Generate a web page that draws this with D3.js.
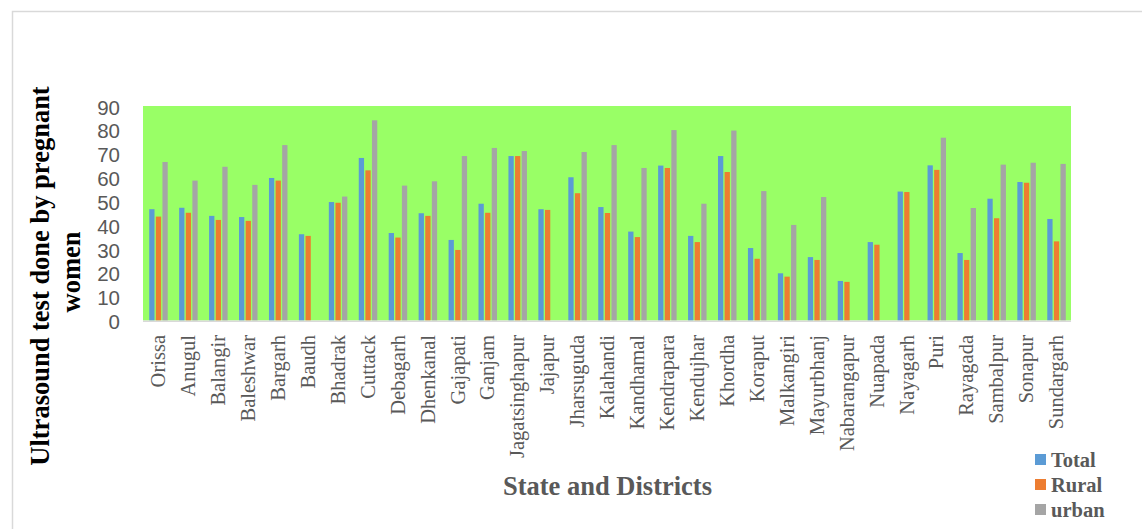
<!DOCTYPE html>
<html>
<head>
<meta charset="utf-8">
<script src="https://cdn.jsdelivr.net/npm/d3@7"></script>
<style>
  html, body { margin: 0; padding: 0; background: #ffffff; }
  svg { display: block; }
</style>
</head>
<body>
<svg id="chart" width="1142" height="529"></svg>
<script>
const categories = ["Orissa","Anugul","Balangir","Baleshwar","Bargarh","Baudh","Bhadrak","Cuttack","Debagarh","Dhenkanal","Gajapati","Ganjam","Jagatsinghapur","Jajapur","Jharsuguda","Kalahandi","Kandhamal","Kendrapara","Kendujhar","Khordha","Koraput","Malkangiri","Mayurbhanj","Nabarangapur","Nuapada","Nayagarh","Puri","Rayagada","Sambalpur","Sonapur","Sundargarh"];
const seriesNames = ["Total","Rural","urban"];
const totalValues = [46.7,47.3,43.9,43.4,59.8,36.2,49.7,68.2,36.7,45.0,33.8,49.0,69.0,46.7,60.1,47.6,37.3,65.0,35.5,69.0,30.4,19.8,26.6,16.6,32.9,54.1,65.1,28.3,51.1,58.1,42.6];
const ruralValues = [43.6,45.2,42.2,41.8,58.7,35.5,49.4,63.0,34.8,43.9,29.6,45.2,69.0,46.4,53.4,45.1,35.0,64.0,32.9,62.3,25.9,18.4,25.4,16.2,31.8,53.9,63.2,25.4,42.9,57.8,33.2];
const urbanValues = [66.5,58.7,64.5,56.9,73.6,null,52.0,84.0,56.6,58.4,69.0,72.4,71.1,null,70.7,73.6,64.0,79.9,49.0,79.7,54.3,40.1,51.8,null,null,null,76.7,47.2,65.4,66.2,65.7];
const yTicks = [0,10,20,30,40,50,60,70,80,90];
const seriesColors = ["#5B9BD5","#ED7D31","#A5A5A5"];

const svg = d3.select("#chart");

// outer chart border
svg.append("rect")
  .attr("x", 12.5).attr("y", 11.5)
  .attr("width", 1300).attr("height", 700)
  .attr("fill", "none").attr("stroke", "#d9d9d9").attr("stroke-width", 1.5);

const plot = { left: 143, right: 1071, top: 106, bottom: 320.5 };

const x = d3.scaleBand().domain(categories).range([plot.left, plot.right]).padding(0);
const y = d3.scaleLinear().domain([0, 90]).range([plot.bottom, plot.top]);
const xs = d3.scaleBand().domain(seriesNames).range([-9.25, 9.25]).paddingInner(0.2);

// plot area
svg.append("rect")
  .attr("x", plot.left).attr("y", plot.top)
  .attr("width", plot.right - plot.left).attr("height", plot.bottom - plot.top)
  .attr("fill", "#99FF66");

const data = categories.map((c, i) => ({
  cat: c,
  vals: [totalValues[i], ruralValues[i], urbanValues[i]]
}));

const groups = svg.append("g").selectAll("g").data(data).join("g")
  .attr("transform", d => `translate(${x(d.cat) + x.bandwidth() / 2 + 0.5},0)`);

groups.selectAll("rect")
  .data(d => d.vals.map((v, k) => ({ v, k })).filter(e => e.v !== null))
  .join("rect")
  .attr("x", e => xs(seriesNames[e.k]))
  .attr("width", xs.bandwidth())
  .attr("y", e => y(e.v))
  .attr("height", e => y(0) - y(e.v))
  .attr("fill", e => seriesColors[e.k]);

// x axis baseline
svg.append("line")
  .attr("x1", plot.left).attr("x2", plot.right)
  .attr("y1", plot.bottom + 0.7).attr("y2", plot.bottom + 0.7)
  .attr("stroke", "#d9d9d9").attr("stroke-width", 1.5);

// y axis
const yAxis = d3.axisLeft(y).tickValues(yTicks).tickSize(0).tickPadding(0);
const yg = svg.append("g").attr("transform", "translate(120,1.5)").call(yAxis);
yg.select(".domain").remove();
yg.selectAll("text")
  .attr("font-family", "'Liberation Sans', Arial, sans-serif")
  .attr("font-size", "20.5px")
  .attr("fill", "#595959");

// x axis labels
const xAxis = d3.axisBottom(x).tickSize(0).tickPadding(0);
const xg = svg.append("g").attr("transform", `translate(0,${plot.bottom})`).call(xAxis);
xg.select(".domain").remove();
xg.selectAll("text")
  .attr("font-family", "'Liberation Serif', 'Times New Roman', serif")
  .attr("font-size", "20.5px")
  .attr("fill", "#595959")
  .attr("text-anchor", "end")
  .attr("dy", "0.35em")
  .attr("transform", "translate(0,14.5) rotate(-90)")
  .attr("y", 0).attr("x", 0);

// y title
svg.append("text")
  .attr("transform", "translate(49,276) rotate(-90)")
  .attr("text-anchor", "middle")
  .attr("font-family", "'Liberation Serif', 'Times New Roman', serif")
  .attr("font-weight", "bold").attr("font-size", "26.5px").attr("fill", "#000")
  .text("Ultrasound test done by pregnant");
svg.append("text")
  .attr("transform", "translate(80,272) rotate(-90)")
  .attr("text-anchor", "middle")
  .attr("font-family", "'Liberation Serif', 'Times New Roman', serif")
  .attr("font-weight", "bold").attr("font-size", "26.5px").attr("fill", "#000")
  .text("women");

// x title
svg.append("text")
  .attr("x", 607.5).attr("y", 495)
  .attr("text-anchor", "middle")
  .attr("font-family", "'Liberation Serif', 'Times New Roman', serif")
  .attr("font-weight", "bold").attr("font-size", "26.5px").attr("fill", "#595959")
  .text("State and Districts");

// legend
const lg = svg.append("g").selectAll("g").data(seriesNames).join("g")
  .attr("transform", (d, i) => `translate(1035,${454 + i * 25})`);
lg.append("rect").attr("width", 11).attr("height", 11)
  .attr("fill", (d, i) => seriesColors[i]);
lg.append("text").attr("x", 16).attr("y", 12.5)
  .attr("font-family", "'Liberation Serif', 'Times New Roman', serif")
  .attr("font-weight", "bold").attr("font-size", "20.5px").attr("fill", "#595959")
  .text(d => d);
</script>
</body>
</html>
